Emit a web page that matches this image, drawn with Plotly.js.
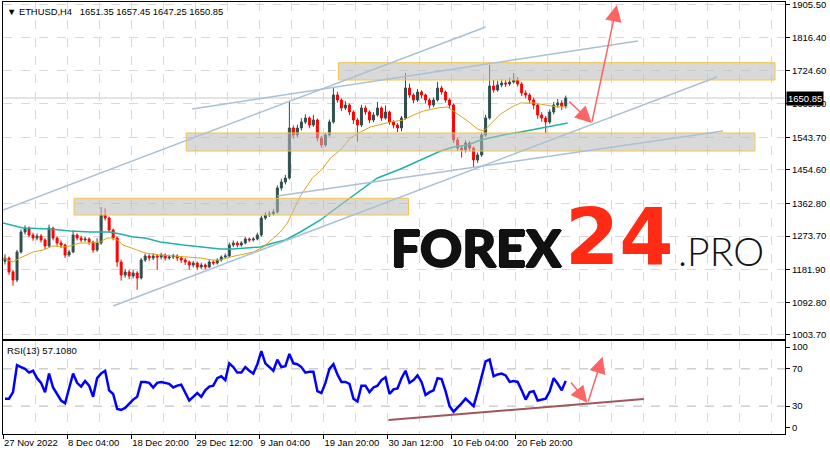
<!DOCTYPE html>
<html>
<head>
<meta charset="utf-8">
<script src="https://cdn.plot.ly/plotly-3.0.1.min.js"></script>
<style>html,body{margin:0;padding:0;background:#fff;}#chart{width:830px;height:455px;}</style>
</head>
<body>
<div id="chart"></div>
<script>
// ETHUSD, bars (each candle aggregates 4 H4 bars)
const opens = [1205.0,1213.9,1175.7,1153.8,1230.3,1284.9,1295.8,1276.7,1268.5,1274.0,
1263.1,1246.7,1295.8,1268.5,1254.9,1249.4,1222.1,1230.3,1276.7,1268.5,
1263.1,1265.8,1257.6,1235.7,1254.9,1331.3,1323.1,1290.4,1268.5,1203.0,
1167.5,1175.7,1164.7,1172.9,1159.3,1208.4,1219.4,1213.9,1219.4,1216.6,
1222.1,1213.9,1216.6,1219.4,1213.9,1208.4,1203.0,1194.8,1200.2,1189.3,
1194.8,1189.3,1203.0,1200.2,1208.4,1216.6,1219.4,1249.4,1254.9,1249.4,
1254.9,1265.8,1263.1,1265.8,1276.7,1323.1,1331.3,1334.1,1339.5,1405.1,
1421.5,1432.4,1568.9,1549.8,1568.9,1585.3,1596.2,1577.1,1590.8,1541.6,
1522.5,1549.8,1585.3,1659.1,1645.4,1623.6,1631.7,1612.6,1590.8,1577.1,
1623.6,1612.6,1590.8,1604.4,1623.6,1596.2,1612.6,1585.3,1577.1,1568.9,
1596.2,1678.2,1659.1,1645.4,1667.2,1659.1,1645.4,1631.7,1645.4,1678.2,
1667.2,1645.4,1631.7,1536.2,1514.3,1508.8,1528.0,1514.3,1481.5,1495.2,
1549.8,1596.2,1683.6,1672.7,1686.4,1691.8,1689.1,1694.6,1700.0,1689.1,
1664.5,1659.1,1645.4,1631.7,1604.4,1596.2,1585.3,1612.6,1631.7,1637.2,
1629.0];
const highs = [1224,1218,1181,1236,1292,1303,1300,1283,1281,1279,
1268,1305,1299,1273,1262,1253,1236,1290,1281,1275,
1272,1270,1261,1268,1353,1350,1327,1294,1272,1210,
1184,1182,1181,1178,1214,1226,1224,1227,1224,1228,
1226,1223,1225,1224,1219,1214,1207,1206,1204,1201,
1199,1208,1207,1213,1221,1226,1256,1262,1260,1260,
1271,1270,1271,1283,1330,1339,1342,1347,1412,1430,
1441,1641,1576,1578,1596,1606,1601,1605,1595,1547,
1556,1592,1678,1668,1650,1642,1636,1617,1596,1632,
1630,1617,1612,1640,1628,1630,1616,1590,1582,1602,
1719,1690,1664,1675,1672,1663,1650,1652,1695,1684,
1671,1650,1636,1542,1522,1535,1533,1518,1502,1556,
1605,1741,1700,1698,1702,1700,1706,1719,1708,1694,
1672,1664,1652,1636,1612,1602,1620,1640,1648,1645,
1657.45];
const lows = [1196,1168,1138,1148,1226,1278,1270,1261,1262,1256,
1238,1243,1262,1247,1241,1214,1217,1227,1262,1257,
1258,1250,1228,1231,1250,1316,1283,1262,1190,1152,
1160,1156,1158,1127,1155,1203,1206,1208,1181,1210,
1207,1209,1211,1206,1200,1195,1182,1188,1181,1184,
1183,1186,1194,1196,1204,1211,1216,1244,1243,1245,
1251,1257,1259,1262,1272,1318,1326,1330,1336,1398,
1415,1428,1540,1544,1562,1580,1568,1572,1532,1515,
1518,1545,1581,1638,1615,1618,1604,1580,1531,1572,
1605,1582,1585,1600,1588,1592,1578,1568,1558,1560,
1592,1652,1636,1640,1650,1636,1622,1626,1641,1660,
1638,1622,1528,1506,1488,1502,1505,1460,1474,1490,
1545,1592,1665,1668,1680,1681,1684,1690,1682,1656,
1650,1636,1620,1594,1586,1555,1580,1606,1625,1618,
1622];
const closes = [1213.9,1175.7,1153.8,1230.3,1284.9,1295.8,1276.7,1268.5,1274.0,1263.1,
1246.7,1295.8,1268.5,1254.9,1249.4,1222.1,1230.3,1276.7,1268.5,1263.1,
1265.8,1257.6,1235.7,1254.9,1331.3,1323.1,1290.4,1268.5,1203.0,1167.5,
1175.7,1164.7,1172.9,1159.3,1208.4,1219.4,1213.9,1219.4,1216.6,1222.1,
1213.9,1216.6,1219.4,1213.9,1208.4,1203.0,1194.8,1200.2,1189.3,1194.8,
1189.3,1203.0,1200.2,1208.4,1216.6,1219.4,1249.4,1254.9,1249.4,1254.9,
1265.8,1263.1,1265.8,1276.7,1323.1,1331.3,1334.1,1339.5,1405.1,1421.5,
1432.4,1568.9,1549.8,1568.9,1585.3,1596.2,1577.1,1590.8,1541.6,1522.5,
1549.8,1585.3,1659.1,1645.4,1623.6,1631.7,1612.6,1590.8,1577.1,1623.6,
1612.6,1590.8,1604.4,1623.6,1596.2,1612.6,1585.3,1577.1,1568.9,1596.2,
1678.2,1659.1,1645.4,1667.2,1659.1,1645.4,1631.7,1645.4,1678.2,1667.2,
1645.4,1631.7,1536.2,1514.3,1508.8,1528.0,1514.3,1481.5,1495.2,1549.8,
1596.2,1683.6,1672.7,1686.4,1691.8,1689.1,1694.6,1700.0,1689.1,1664.5,
1659.1,1645.4,1631.7,1604.4,1596.2,1585.3,1612.6,1631.7,1637.2,1629.0,
1650.85];
const rsi = [38,38,45,74,72,70,66,68,60,55,
45,65,50,43,36,33,50,65,55,51,
57,52,40,60,65,68,47,43,27,26,
28,33,37,40,56,56,55,50,55,56,
55,54,50,52,53,44,36,40,44,40,
47,51,52,60,62,58,76,72,66,66,
72,68,65,75,89,76,72,68,80,72,
73,86,76,75,72,66,67,67,46,44,
55,70,75,64,56,56,54,38,35,52,
52,45,50,52,58,61,43,48,49,60,
68,55,58,63,56,42,45,47,60,59,
46,30,24,28,33,38,34,30,45,62,
78,80,62,64,65,63,56,57,56,47,
37,45,46,36,37,38,46,60,54,47,
57.108];
// moving averages (bar position, price)
const maFastX = [0,2.5,4.25,7.5,10,12.5,15,16.75,19.25,21.75,24.25,26,27.25,28.5,30,32.5,35.5,39.25,45,49.25,52.25,54.25,56.75,59.25,62.5,65,67.5,69.25,71,74.25,77.25,79.75,81.75,84.25,86.75,89.25,91.75,96.75,100,102.5,105,108.5,111,113.5,116,118.5,120,121.75,124.25,127.5,129.25,132.5,136,138.5,141];
const maFastY = [1213.9,1203.0,1213.9,1230.3,1235.8,1246.7,1243.9,1246.7,1254.9,1254.9,1257.6,1268.5,1268.5,1263.1,1249.4,1238.5,1227.6,1222.1,1216.6,1213.9,1208.4,1208.4,1216.6,1222.1,1230.3,1243.9,1268.5,1284.9,1309.5,1383.2,1432.4,1457.0,1487.0,1508.9,1541.6,1558.0,1571.7,1585.3,1590.8,1604.4,1615.4,1623.6,1626.3,1607.2,1588.0,1566.2,1560.7,1579.9,1607.2,1629.0,1637.2,1637.2,1631.7,1626.3,1626.3];
const maSlowX = [0,5,11.75,16.75,21.75,26.75,29.25,32.5,35.5,39.25,45,51,54.25,57.5,61,64.25,67.5,70.5,74.25,79.25,84.25,89.25,93.5,99.25,102.5,104.25,109.25,112.5,116,119.25,126,129.25,136,141];
const maSlowY = [1309.5,1295.8,1293.1,1287.6,1284.9,1284.9,1279.4,1271.2,1268.5,1257.6,1249.4,1241.2,1238.5,1238.5,1241.2,1243.9,1254.9,1263.1,1284.9,1317.7,1358.7,1399.6,1432.4,1457.0,1473.4,1481.5,1506.1,1517.0,1522.5,1536.2,1552.5,1558.0,1571.7,1582.6];
// axis ticks
const priceTicks = [1905.5,1816.4,1724.6,1635.5,1543.7,1454.6,1362.8,1273.7,1181.9,1092.8,1003.7];
const timeTickPos = [0,16,32,48,64,80,96,112,128];
const timeTickText = ['27 Nov 2022','8 Dec 04:00','18 Dec 20:00','29 Dec 12:00','9 Jan 04:00','19 Jan 20:00','30 Jan 12:00','10 Feb 04:00','20 Feb 20:00'];
const rsiTickPos = [93.5,70,30,6.5];
const rsiTickText = ['100','70','30','0'];
const rsiLevels = [70,30];
const lastPrice = 1650.85;
// drawn objects [x0, x1, y0, y1] and lines [x0, y0, x1, y1]
const zones = [[83.75,192.75,1700.0,1747.3],[45.75,187.75,1506.1,1555.3],[17.75,101.25,1331.3,1376.9]];
const trendLines = [[0,1345.0,120.5,1844.8],[47.25,1620.8,158.5,1806.5],[27.5,1082.8,178.25,1708.2],[68.5,1383.2,179.75,1560.7]];
const rsiTrend = [96.25,15.1,160,37.6];
const priceArrows = [[141,1645.4,147,1582.6],[147,1582.6,153.25,1904.8]];
const rsiArrows = [[141.5,57,145.9,33.7],[146,33.3,149.7,83.1]];

const barX = closes.map((_, i) => i + 0.5);
const FONT = 'Liberation Sans, Arial, sans-serif';
const GRID = '#d9d9d9';

const traces = [
  {type:'candlestick', x:barX, open:opens, high:highs, low:lows, close:closes, xaxis:'x', yaxis:'y',
   increasing:{line:{color:'#2f4f4f', width:1}, fillcolor:'#2f4f4f'},
   decreasing:{line:{color:'#ff0000', width:1}, fillcolor:'#ff0000'},
   whiskerwidth:0, hoverinfo:'skip'},
  {type:'scatter', mode:'lines', x:maSlowX, y:maSlowY, xaxis:'x', yaxis:'y', line:{color:'#20b2aa', width:1.5}, hoverinfo:'skip'},
  {type:'scatter', mode:'lines', x:maFastX, y:maFastY, xaxis:'x', yaxis:'y', line:{color:'#daa520', width:1}, hoverinfo:'skip'},
  {type:'scatter', mode:'lines', x:barX, y:rsi, xaxis:'x2', yaxis:'y2', line:{color:'#0000ff', width:2.5}, hoverinfo:'skip'}
];

const shapes = [];
shapes.push({type:'line', xref:'paper', x0:0, x1:1, yref:'y', y0:lastPrice, y1:lastPrice, line:{color:'#c8c8c8', width:1}, layer:'below'});
rsiLevels.forEach(v => shapes.push({type:'line', xref:'paper', x0:0, x1:1, yref:'y2', y0:v, y1:v, line:{color:'#b4b4b4', width:1, dash:'dash'}, layer:'below'}));
zones.forEach(z => shapes.push({type:'rect', xref:'x', yref:'y', x0:z[0], x1:z[1], y0:z[2], y1:z[3], fillcolor:'rgba(185,185,185,0.55)', line:{color:'#f3c44e', width:1}, layer:'above'}));
trendLines.forEach(t => shapes.push({type:'line', xref:'x', yref:'y', x0:t[0], y0:t[1], x1:t[2], y1:t[3], line:{color:'#a9c1d3', width:1.5}}));
shapes.push({type:'line', xref:'x2', yref:'y2', x0:rsiTrend[0], y0:rsiTrend[1], x1:rsiTrend[2], y1:rsiTrend[3], line:{color:'#a0565a', width:2}});

const annotations = [];
const arrowStyle = {text:'', showarrow:true, arrowhead:2, arrowsize:2.2, arrowwidth:1.5, arrowcolor:'#ff6464', standoff:0, startstandoff:0};
priceArrows.forEach(a => annotations.push(Object.assign({xref:'x', yref:'y', axref:'x', ayref:'y', ax:a[0], ay:a[1], x:a[2], y:a[3]}, arrowStyle)));
rsiArrows.forEach(a => annotations.push(Object.assign({xref:'x2', yref:'y2', axref:'x2', ayref:'y2', ax:a[0], ay:a[1], x:a[2], y:a[3]}, arrowStyle)));

const W = 781, PH = 432;
const px = p => (p - 3) / W;
const py = p => (434 - p) / PH;
annotations.push({xref:'paper', yref:'paper', x:px(5), y:py(11), xanchor:'left', yanchor:'middle', showarrow:false,
  text:'\u25BC ETHUSD,H4\u00a0\u00a0 1651.35 1657.45 1647.25 1650.85', font:{family:FONT, size:9.4, color:'#000'}});
annotations.push({xref:'paper', yref:'paper', x:px(5), y:py(350), xanchor:'left', yanchor:'middle', showarrow:false,
  text:'RSI(13) 57.1080', font:{family:FONT, size:9.5, color:'#000'}});
annotations.push({xref:'paper', yref:'y', x:1, y:lastPrice, xanchor:'left', yanchor:'middle', xshift:1, showarrow:false,
  text:'1650.85', bgcolor:'#000', borderpad:1, font:{family:FONT, size:9.5, color:'#fff'}});
// watermark
annotations.push({xref:'paper', yref:'paper', x:px(389), y:py(247), xanchor:'left', yanchor:'middle', showarrow:false,
  text:'FOREX', font:{family:'Lato', size:52, weight:900, color:'#111',
  shadow:'1px 0 0 #111, -1px 0 0 #111, 0 1px 0 #111, 0 -1px 0 #111'}});
annotations.push({xref:'paper', yref:'paper', x:px(562), y:py(237), xanchor:'left', yanchor:'middle', showarrow:false,
  text:'24', font:{family:'DejaVu Sans', size:78, weight:700, color:'#ff2b14'}});
annotations.push({xref:'paper', yref:'paper', x:px(675), y:py(251), xanchor:'left', yanchor:'middle', showarrow:false,
  text:'.PRO', font:{family:'Lato', size:39, weight:300, color:'#111'}});

const axisCommon = {showline:true, mirror:true, linecolor:'#000', linewidth:1, zeroline:false, fixedrange:true,
  tickfont:{family:FONT, size:9.5, color:'#000'}, tickcolor:'#000', ticklabeloverflow:'allow'};

const layout = {
  width:830, height:455, margin:{l:3, r:45, t:2, b:21},
  paper_bgcolor:'#fff', plot_bgcolor:'#fff', showlegend:false,
  xaxis: Object.assign({}, axisCommon, {domain:[0,1], anchor:'y', range:[0,195.25], tickmode:'array', tickvals:timeTickPos,
    showticklabels:false, ticks:'', showgrid:true, gridcolor:GRID, griddash:'dash', gridwidth:1,
    minor:{tick0:0, dtick:8, showgrid:true, gridcolor:GRID, griddash:'dash', gridwidth:1, ticks:''},
    rangeslider:{visible:false}}),
  xaxis2: Object.assign({}, axisCommon, {domain:[0,1], anchor:'y2', matches:'x', range:[0,195.25], tickmode:'array', tickvals:timeTickPos,
    ticktext:timeTickText, ticks:'outside', ticklen:4, tickangle:0, ticklabelposition:'outside right', showgrid:true, gridcolor:GRID, griddash:'dash',
    minor:{tick0:0, dtick:8, showgrid:true, gridcolor:GRID, griddash:'dash', gridwidth:1, ticks:''},
    rangeslider:{visible:false}}),
  yaxis: Object.assign({}, axisCommon, {domain:[0.2199,1], anchor:'x', side:'right', range:[992.7,1913.0], tickmode:'array',
    tickvals:priceTicks, ticktext:priceTicks.map(v => v.toFixed(2)), ticks:'outside', ticklen:4,
    showgrid:true, gridcolor:GRID, griddash:'dash'}),
  yaxis2: Object.assign({}, axisCommon, {domain:[0,0.2153], anchor:'x2', side:'right', range:[0,100], tickmode:'array',
    tickvals:rsiTickPos, ticktext:rsiTickText, ticks:'outside', ticklen:4, showgrid:false}),
  shapes:shapes, annotations:annotations
};

Plotly.newPlot('chart', traces, layout, {displayModeBar:false, staticPlot:true});
</script>
</body>
</html>
